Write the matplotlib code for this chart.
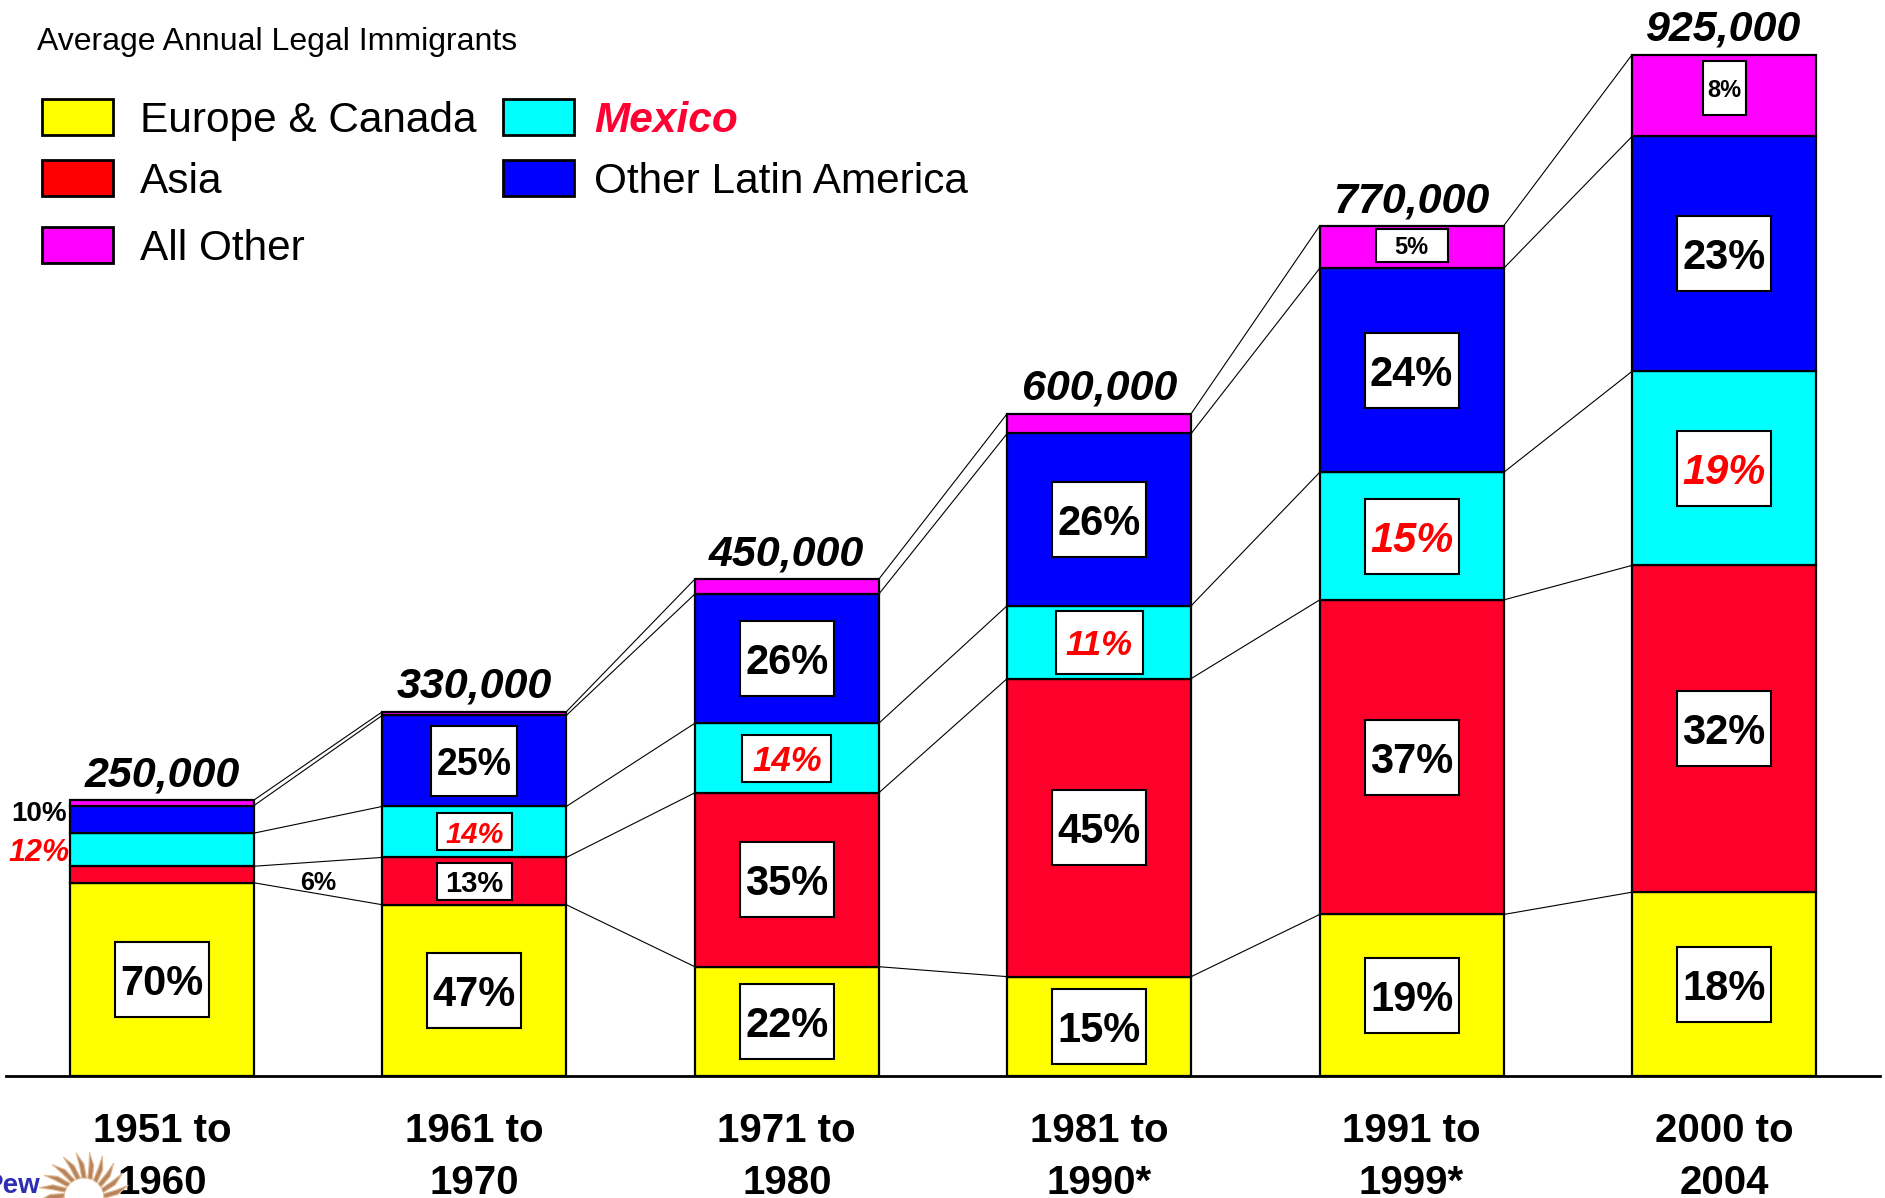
import numpy as np
import matplotlib
matplotlib.use("Agg")
import matplotlib.pyplot as plt
import matplotlib.transforms as mtransforms
from matplotlib.patches import Rectangle, Polygon, Wedge

plt.rcParams["font.family"] = ["Liberation Sans", "DejaVu Sans"]

# 데이터 (천 명 단위 / 지역별 비율 %)
periods = ["1951 to\n1960", "1961 to\n1970", "1971 to\n1980",
           "1981 to\n1990*", "1991 to\n1999*", "2000 to\n2004"]
totals = [250, 330, 450, 600, 770, 925]
europe_canada = [70, 47, 22, 15, 19, 18]
asia = [6, 13, 35, 45, 37, 32]
mexico = [12, 14, 14, 11, 15, 19]
other_latin = [10, 25, 26, 26, 24, 23]
all_other = [2, 1, 3, 3, 5, 8]

region_names = ["Europe & Canada", "Asia", "Mexico", "Other Latin America", "All Other"]
bar_colors = ["#FFFF00", "#FF002B", "#00FFFF", "#0000FF", "#FF00FF"]
legend_colors = ["#FFFF00", "#FF0000", "#00FFFF", "#0000FF", "#FF00FF"]

W, H, DPI = 1885, 1198, 100
fig = plt.figure(figsize=(W / DPI, H / DPI), dpi=DPI)

# 본 차트 축: 아래 기준선이 y=1076px 에 오도록
base_px = H - 1076
ax = fig.add_axes([0, base_px / H, 1, 1 - base_px / H])
spacing_px = 312.4
first_px = 162
ax.set_xlim(-first_px / spacing_px, (W - first_px) / spacing_px)
ax.set_ylim(0, (H - base_px) / 1.104)
bar_w = 184 / spacing_px

shares = np.array([europe_canada, asia, mexico, other_latin, all_other], dtype=float)
values = shares / 100.0 * np.array(totals)
cum = np.vstack([np.zeros(len(totals)), np.cumsum(values, axis=0)])
x = np.arange(len(totals))

# 막대 사이 연결선
for i in range(len(totals) - 1):
    for k in range(1, cum.shape[0]):
        ax.plot([x[i] + bar_w / 2, x[i + 1] - bar_w / 2], [cum[k, i], cum[k, i + 1]],
                color="black", lw=0.8, zorder=1)

for k in range(len(region_names)):
    ax.bar(x, values[k], bottom=cum[k], width=bar_w, color=bar_colors[k],
           edgecolor="black", linewidth=1.6, zorder=2)

# 라벨 박스 스타일 (폰트 크기, 박스 가로/세로 px, 세로 보정 px)
default_style = (30, 94, 75, 0)
label_style = {
    (1, 3): (27, 86, 70, 0), (1, 2): (21, 75, 37, 0), (1, 1): (21, 75, 37, 0),
    (2, 2): (25, 89, 47, 0), (3, 2): (25, 87, 63, 0),
    (4, 4): (17, 72, 33, 2), (5, 4): (17, 43, 54, 8),
}
no_box = {(0, 1), (0, 2), (0, 3), (0, 4), (1, 4), (2, 4), (3, 4)}

for i in range(len(totals)):
    for k in range(len(region_names)):
        if (i, k) in no_box:
            continue
        fs, bw, bh, dy = label_style.get((i, k), default_style)
        yc = (cum[k, i] + cum[k + 1, i]) / 2
        trans = mtransforms.IdentityTransform() + mtransforms.ScaledTranslation(x[i], yc, ax.transData)
        ax.add_patch(Rectangle((-bw / 2, -bh / 2 + dy), bw, bh, transform=trans,
                               facecolor="white", edgecolor="black", lw=1.5, zorder=3))
        is_mex = region_names[k] == "Mexico"
        ax.annotate(f"{int(shares[k, i])}%", (x[i], yc), xytext=(0, dy * 0.72),
                    textcoords="offset points", ha="center", va="center_baseline",
                    fontsize=fs, fontweight="bold", color="#FF0000" if is_mex else "black",
                    style="italic" if is_mex else "normal", zorder=4)

# 첫 막대의 바깥 라벨
left0 = x[0] - bar_w / 2
y_ola = (cum[3, 0] + cum[4, 0]) / 2
y_mex = (cum[2, 0] + cum[3, 0]) / 2
y_asia = (cum[1, 0] + cum[2, 0]) / 2
ax.annotate(f"{int(other_latin[0])}%", (left0, y_ola), xytext=(-2, 6), textcoords="offset points",
            ha="right", va="center_baseline", fontsize=20, fontweight="bold")
ax.annotate(f"{int(mexico[0])}%", (left0, y_mex), xytext=(0, 0), textcoords="offset points",
            ha="right", va="center_baseline", fontsize=22, fontweight="bold",
            style="italic", color="#FF0000")
ax.annotate(f"{int(asia[0])}%", ((x[0] + x[1]) / 2, y_asia), xytext=(0, -4), textcoords="offset points",
            ha="center", va="center_baseline", fontsize=18, fontweight="bold")

# 총합 라벨
for i, t in enumerate(totals):
    ax.annotate(f"{t * 1000:,}", (x[i], t), xytext=(0, 10), textcoords="offset points",
                ha="center", va="baseline", fontsize=31, fontweight="bold", style="italic")

ax.set_xticks(x, labels=periods)
ax.tick_params(axis="x", length=0, pad=26, labelsize=29)
for lab in ax.get_xticklabels():
    lab.set_fontweight("bold")
    lab.set_linespacing(1.45)
ax.set_yticks([])
for s in ["top", "left", "right"]:
    ax.spines[s].set_visible(False)
ax.spines["bottom"].set_linewidth(2)
ax.spines["bottom"].set_bounds(-0.5, 5.5)

# 범례 + 제목 + 로고 (픽셀 좌표 오버레이)
deco = fig.add_axes([0, 0, 1, 1], facecolor="none")
deco.set_xlim(0, W)
deco.set_ylim(H, 0)
deco.axis("off")

deco.text(37, 50, "Average Annual Legal Immigrants", fontsize=23, va="baseline", ha="left")

legend_items = [  # (지역 index, 박스 x, 텍스트 x, 행 y)
    (0, 42, 140, 117), (1, 42, 140, 178), (4, 42, 140, 245),
    (2, 503, 594, 117), (3, 503, 594, 178),
]
for k, bx, tx, yc in legend_items:
    deco.add_patch(Rectangle((bx, yc - 18), 71, 36, facecolor=legend_colors[k],
                             edgecolor="black", lw=2))
    is_mex = region_names[k] == "Mexico"
    deco.text(tx, yc + 15, region_names[k], fontsize=30.5, va="baseline", ha="left",
              color="#FF0033" if is_mex else "black",
              fontweight="bold" if is_mex else "normal",
              style="italic" if is_mex else "normal")

# Pew 로고 (왼쪽이 조금 잘린 채로)
deco.text(40, 1193, "Pew", fontsize=20, fontweight="bold", color="#2E2EB0",
          ha="right", va="baseline")
cx, cy = 84, 1198
deco.add_patch(Wedge((cx, cy), 17, 0, 180, width=4, facecolor="#E3C3A3", edgecolor="none"))
for ang in np.linspace(6, 174, 11):
    a = np.deg2rad(ang)
    pts = []
    for r, da in [(20, -7), (34, 0), (46, 10), (33, 8), (20, 6)]:
        aa = a + np.deg2rad(da)
        pts.append((cx + r * np.cos(aa), cy - r * np.sin(aa)))
    deco.add_patch(Polygon(pts, closed=True, facecolor="#B9845C", edgecolor="#E0BE9C", lw=0.8))

fig.savefig("out.png", dpi=DPI)
